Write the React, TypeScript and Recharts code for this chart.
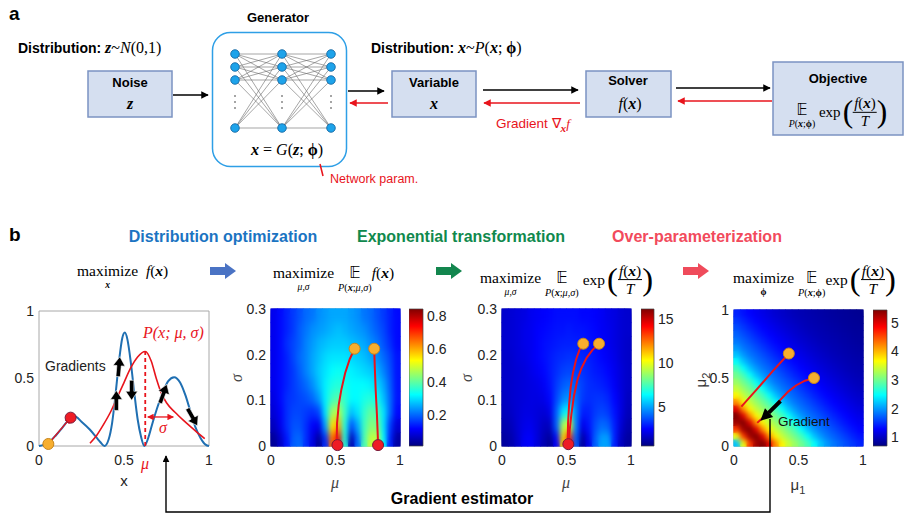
import React from 'react';
import { ComposedChart, Line, Scatter, XAxis, YAxis, ReferenceArea, ReferenceLine } from 'recharts';

const SANS = '"Liberation Sans", Arial, sans-serif';
const SERIF = '"Liberation Serif", "Times New Roman", serif';
const RED = '#e8141c';

// ---- panel b, plot 1: f(x) and P(x; mu, sigma)
const F_CURVE = [
  { x: 0, y: 0 }, { x: 0.03, y: 0.01 }, { x: 0.06, y: 0.03 }, { x: 0.1, y: 0.08 }, { x: 0.14, y: 0.14 },
  { x: 0.18, y: 0.2 }, { x: 0.21, y: 0.22 }, { x: 0.25, y: 0.18 }, { x: 0.3, y: 0.12 }, { x: 0.34, y: 0.06 },
  { x: 0.36, y: 0.03 }, { x: 0.385, y: 0 }, { x: 0.41, y: 0.05 }, { x: 0.43, y: 0.17 }, { x: 0.45, y: 0.38 },
  { x: 0.47, y: 0.62 }, { x: 0.49, y: 0.8 }, { x: 0.505, y: 0.84 }, { x: 0.52, y: 0.79 }, { x: 0.54, y: 0.62 },
  { x: 0.56, y: 0.4 }, { x: 0.58, y: 0.2 }, { x: 0.6, y: 0.07 }, { x: 0.62, y: 0 }, { x: 0.64, y: 0.05 },
  { x: 0.67, y: 0.18 }, { x: 0.7, y: 0.3 }, { x: 0.73, y: 0.4 }, { x: 0.76, y: 0.48 }, { x: 0.795, y: 0.51 },
  { x: 0.83, y: 0.47 }, { x: 0.86, y: 0.38 }, { x: 0.89, y: 0.26 }, { x: 0.92, y: 0.14 }, { x: 0.95, y: 0.06 },
  { x: 0.98, y: 0.01 }, { x: 1, y: 0 },
];
const P_CURVE = [
  { x: 0.3, y: 0.02 }, { x: 0.34, y: 0.08 }, { x: 0.38, y: 0.16 }, { x: 0.42, y: 0.25 }, { x: 0.46, y: 0.36 },
  { x: 0.5, y: 0.47 }, { x: 0.54, y: 0.58 }, { x: 0.58, y: 0.66 }, { x: 0.625, y: 0.7 }, { x: 0.66, y: 0.63 },
  { x: 0.69, y: 0.5 }, { x: 0.72, y: 0.39 }, { x: 0.75, y: 0.32 }, { x: 0.8, y: 0.25 }, { x: 0.85, y: 0.19 },
  { x: 0.9, y: 0.135 }, { x: 0.95, y: 0.08 }, { x: 0.975, y: 0.055 },
];
const START_1D = [{ x: 0.055, y: 0.015 }];
const END_1D = [{ x: 0.186, y: 0.21 }];
const GRAD_ARROWS = [
  { x: 0.455, y: 0.33, angle: 0 }, { x: 0.47, y: 0.58, angle: 5 }, { x: 0.545, y: 0.42, angle: 180 },
  { x: 0.73, y: 0.38, angle: 20 }, { x: 0.9, y: 0.22, angle: 150 },
];
const MU_MARK = [{ x: 0.625, y: 0 }, { x: 0.625, y: 0.7 }];
const SIGMA_MARK = [{ x: 0.64, y: 0.215 }, { x: 0.79, y: 0.215 }];

const TICKS_01 = [0, 0.5, 1];
const SIGMA_TICKS = [0, 0.1, 0.2, 0.3];

// ---- heat maps (cell centres, rows bottom -> top)
const MU_GRID = [0.025, 0.075, 0.125, 0.175, 0.225, 0.275, 0.325, 0.375, 0.425, 0.475,
  0.525, 0.575, 0.625, 0.675, 0.725, 0.775, 0.825, 0.875, 0.925, 0.975];
const SIGMA_GRID = [0.015, 0.045, 0.075, 0.105, 0.135, 0.165, 0.195, 0.225, 0.255, 0.285];

const HEAT_F = [
  [0.03, 0.07, 0.13, 0.19, 0.2, 0.15, 0.09, 0.03, 0.15, 0.65, 0.75, 0.35, 0.05, 0.2, 0.38, 0.48, 0.48, 0.32, 0.14, 0.04],
  [0.06, 0.1, 0.15, 0.18, 0.18, 0.15, 0.11, 0.1, 0.25, 0.55, 0.6, 0.35, 0.18, 0.25, 0.37, 0.43, 0.42, 0.3, 0.16, 0.08],
  [0.08, 0.11, 0.15, 0.17, 0.17, 0.16, 0.15, 0.17, 0.3, 0.45, 0.47, 0.37, 0.27, 0.3, 0.36, 0.4, 0.38, 0.3, 0.2, 0.12],
  [0.09, 0.12, 0.15, 0.16, 0.17, 0.18, 0.2, 0.24, 0.31, 0.37, 0.39, 0.36, 0.32, 0.32, 0.34, 0.35, 0.33, 0.27, 0.2, 0.13],
  [0.1, 0.12, 0.14, 0.16, 0.18, 0.2, 0.23, 0.27, 0.31, 0.34, 0.35, 0.34, 0.32, 0.32, 0.32, 0.31, 0.29, 0.25, 0.19, 0.13],
  [0.1, 0.12, 0.14, 0.16, 0.19, 0.22, 0.25, 0.28, 0.3, 0.32, 0.33, 0.32, 0.31, 0.3, 0.29, 0.28, 0.26, 0.22, 0.18, 0.13],
  [0.1, 0.12, 0.14, 0.17, 0.2, 0.22, 0.25, 0.27, 0.29, 0.3, 0.3, 0.3, 0.29, 0.28, 0.27, 0.25, 0.23, 0.2, 0.17, 0.13],
  [0.1, 0.12, 0.15, 0.17, 0.19, 0.22, 0.24, 0.26, 0.27, 0.28, 0.28, 0.28, 0.27, 0.26, 0.25, 0.23, 0.21, 0.18, 0.15, 0.12],
  [0.1, 0.12, 0.14, 0.16, 0.19, 0.21, 0.23, 0.24, 0.25, 0.26, 0.27, 0.26, 0.25, 0.24, 0.23, 0.21, 0.19, 0.17, 0.14, 0.12],
  [0.1, 0.12, 0.14, 0.16, 0.18, 0.2, 0.21, 0.23, 0.24, 0.25, 0.25, 0.25, 0.24, 0.23, 0.21, 0.2, 0.18, 0.16, 0.14, 0.12],
];
const HEAT_EXP = [
  [1.1, 1.3, 1.8, 2.4, 2.5, 2.0, 1.4, 1.0, 2.5, 11, 14, 4, 1.1, 2.2, 4, 5, 5, 3, 1.6, 1.1],
  [1.3, 1.5, 1.9, 2.2, 2.3, 2.0, 1.6, 1.6, 4, 9, 10, 4.5, 2.2, 2.8, 3.7, 4.2, 4, 3, 1.9, 1.3],
  [1.5, 1.7, 1.9, 2.1, 2.1, 2, 1.9, 2.2, 4, 6, 6.5, 4.5, 3, 3, 3.4, 3.6, 3.4, 2.8, 2.1, 1.5],
  [1.6, 1.8, 1.9, 2.0, 2.1, 2.1, 2.2, 2.6, 3.6, 4.5, 4.8, 4.2, 3.4, 3.2, 3.3, 3.3, 3.1, 2.6, 2.1, 1.6],
  [1.7, 1.8, 1.9, 2.0, 2.1, 2.2, 2.4, 2.8, 3.4, 3.9, 4.1, 3.9, 3.5, 3.2, 3.1, 3.0, 2.8, 2.4, 2.0, 1.7],
  [1.7, 1.8, 1.9, 2.0, 2.2, 2.4, 2.6, 2.9, 3.2, 3.5, 3.6, 3.5, 3.3, 3.1, 2.9, 2.8, 2.6, 2.3, 2.0, 1.7],
  [1.7, 1.8, 2.0, 2.1, 2.3, 2.5, 2.7, 2.9, 3.1, 3.2, 3.3, 3.2, 3.1, 3.0, 2.8, 2.6, 2.4, 2.2, 1.9, 1.7],
  [1.8, 1.9, 2.0, 2.2, 2.3, 2.5, 2.7, 2.8, 2.9, 3.0, 3.0, 3.0, 2.9, 2.8, 2.7, 2.5, 2.3, 2.1, 1.9, 1.7],
  [1.8, 1.9, 2.0, 2.2, 2.3, 2.5, 2.6, 2.7, 2.8, 2.8, 2.9, 2.8, 2.8, 2.7, 2.6, 2.4, 2.3, 2.1, 1.9, 1.8],
  [1.8, 1.9, 2.0, 2.1, 2.3, 2.4, 2.5, 2.6, 2.7, 2.7, 2.7, 2.7, 2.6, 2.6, 2.5, 2.4, 2.2, 2.1, 1.9, 1.8],
];
// mu2 rows (same centres as MU_GRID)
const HEAT_PHI = [
  [2.2, 3.6, 4.6, 5.3, 5.45, 5.0, 4.2, 3.7, 3.4, 3.2, 3.0, 2.8, 2.5, 2.2, 2.0, 1.85, 1.75, 1.65, 1.55, 1.45],
  [3.6, 4.6, 5.3, 5.45, 5.0, 4.2, 3.7, 3.4, 3.2, 3.0, 2.8, 2.5, 2.2, 2.0, 1.85, 1.75, 1.65, 1.55, 1.45, 1.37],
  [4.6, 5.3, 5.45, 5.0, 4.2, 3.7, 3.4, 3.2, 3.0, 2.8, 2.5, 2.2, 2.0, 1.85, 1.75, 1.65, 1.55, 1.45, 1.37, 1.3],
  [5.3, 5.45, 5.0, 4.2, 3.7, 3.4, 3.2, 3.0, 2.8, 2.5, 2.2, 2.0, 1.85, 1.75, 1.65, 1.55, 1.45, 1.37, 1.3, 1.24],
  [5.45, 5.0, 4.2, 3.7, 3.4, 3.2, 3.0, 2.8, 2.5, 2.2, 2.0, 1.85, 1.75, 1.65, 1.55, 1.45, 1.37, 1.3, 1.24, 1.18],
  [5.0, 4.2, 3.7, 3.4, 3.2, 3.0, 2.8, 2.5, 2.2, 2.0, 1.85, 1.75, 1.65, 1.55, 1.45, 1.37, 1.3, 1.24, 1.18, 1.13],
  [4.2, 3.7, 3.4, 3.2, 3.0, 2.8, 2.5, 2.2, 2.0, 1.85, 1.75, 1.65, 1.55, 1.45, 1.37, 1.3, 1.24, 1.18, 1.13, 1.08],
  [3.7, 3.4, 3.2, 3.0, 2.8, 2.5, 2.2, 2.0, 1.85, 1.75, 1.65, 1.55, 1.45, 1.37, 1.3, 1.24, 1.18, 1.13, 1.08, 1.04],
  [3.4, 3.2, 3.0, 2.8, 2.5, 2.2, 2.0, 1.85, 1.75, 1.65, 1.55, 1.45, 1.37, 1.3, 1.24, 1.18, 1.13, 1.08, 1.04, 1.0],
  [3.2, 3.0, 2.8, 2.5, 2.2, 2.0, 1.85, 1.75, 1.65, 1.55, 1.45, 1.37, 1.3, 1.24, 1.18, 1.13, 1.08, 1.04, 1.0, 0.97],
  [3.0, 2.8, 2.5, 2.2, 2.0, 1.85, 1.75, 1.65, 1.55, 1.45, 1.37, 1.3, 1.24, 1.18, 1.13, 1.08, 1.04, 1.0, 0.97, 0.94],
  [2.8, 2.5, 2.2, 2.0, 1.85, 1.75, 1.65, 1.55, 1.45, 1.37, 1.3, 1.24, 1.18, 1.13, 1.08, 1.04, 1.0, 0.97, 0.94, 0.92],
  [2.5, 2.2, 2.0, 1.85, 1.75, 1.65, 1.55, 1.45, 1.37, 1.3, 1.24, 1.18, 1.13, 1.08, 1.04, 1.0, 0.97, 0.94, 0.92, 0.9],
  [2.2, 2.0, 1.85, 1.75, 1.65, 1.55, 1.45, 1.37, 1.3, 1.24, 1.18, 1.13, 1.08, 1.04, 1.0, 0.97, 0.94, 0.92, 0.9, 0.88],
  [2.0, 1.85, 1.75, 1.65, 1.55, 1.45, 1.37, 1.3, 1.24, 1.18, 1.13, 1.08, 1.04, 1.0, 0.97, 0.94, 0.92, 0.9, 0.88, 0.86],
  [1.85, 1.75, 1.65, 1.55, 1.45, 1.37, 1.3, 1.24, 1.18, 1.13, 1.08, 1.04, 1.0, 0.97, 0.94, 0.92, 0.9, 0.88, 0.86, 0.84],
  [1.75, 1.65, 1.55, 1.45, 1.37, 1.3, 1.24, 1.18, 1.13, 1.08, 1.04, 1.0, 0.97, 0.94, 0.92, 0.9, 0.88, 0.86, 0.84, 0.83],
  [1.65, 1.55, 1.45, 1.37, 1.3, 1.24, 1.18, 1.13, 1.08, 1.04, 1.0, 0.97, 0.94, 0.92, 0.9, 0.88, 0.86, 0.84, 0.83, 0.82],
  [1.55, 1.45, 1.37, 1.3, 1.24, 1.18, 1.13, 1.08, 1.04, 1.0, 0.97, 0.94, 0.92, 0.9, 0.88, 0.86, 0.84, 0.83, 0.82, 0.8],
  [1.45, 1.37, 1.3, 1.24, 1.18, 1.13, 1.08, 1.04, 1.0, 0.97, 0.94, 0.92, 0.9, 0.88, 0.86, 0.84, 0.83, 0.82, 0.8, 0.79],
];

// optimisation trajectories
const PATHS_F = [
  [{ x: 0.648, y: 0.213 }, { x: 0.61, y: 0.19 }, { x: 0.575, y: 0.16 }, { x: 0.545, y: 0.123 }, { x: 0.525, y: 0.09 }, { x: 0.512, y: 0.05 }, { x: 0.51, y: 0.02 }, { x: 0.515, y: 0.002 }],
  [{ x: 0.8, y: 0.213 }, { x: 0.805, y: 0.17 }, { x: 0.812, y: 0.12 }, { x: 0.821, y: 0.07 }, { x: 0.828, y: 0.02 }, { x: 0.83, y: 0.002 }],
];
const STARTS_F = [{ x: 0.648, y: 0.213 }, { x: 0.8, y: 0.213 }];
const ENDS_F = [{ x: 0.515, y: 0.002 }, { x: 0.83, y: 0.002 }];

const PATHS_EXP = [
  [{ x: 0.63, y: 0.224 }, { x: 0.6, y: 0.21 }, { x: 0.575, y: 0.19 }, { x: 0.55, y: 0.16 }, { x: 0.533, y: 0.13 }, { x: 0.52, y: 0.09 }, { x: 0.512, y: 0.05 }, { x: 0.51, y: 0.02 }, { x: 0.512, y: 0.006 }],
  [{ x: 0.752, y: 0.224 }, { x: 0.7, y: 0.21 }, { x: 0.656, y: 0.193 }, { x: 0.615, y: 0.17 }, { x: 0.585, y: 0.145 }, { x: 0.558, y: 0.11 }, { x: 0.538, y: 0.07 }, { x: 0.525, y: 0.035 }, { x: 0.518, y: 0.01 }],
];
const STARTS_EXP = [{ x: 0.63, y: 0.224 }, { x: 0.752, y: 0.224 }];
const ENDS_EXP = [{ x: 0.514, y: 0.004 }];

const PATHS_PHI = [
  [{ x: 0.425, y: 0.68 }, { x: 0.3, y: 0.55 }, { x: 0.18, y: 0.42 }, { x: 0.057, y: 0.29 }],
  [{ x: 0.62, y: 0.5 }, { x: 0.55, y: 0.48 }, { x: 0.48, y: 0.445 }, { x: 0.42, y: 0.4 }, { x: 0.35, y: 0.33 }, { x: 0.27, y: 0.25 }, { x: 0.18, y: 0.17 }],
];
const STARTS_PHI = [{ x: 0.425, y: 0.68 }, { x: 0.62, y: 0.5 }];
const GRAD_PHI = [{ x: 0.36, y: 0.33 }, { x: 0.27, y: 0.245 }];
const GRAD_PHI_TIP = [{ x: 0.255, y: 0.23, angle: 227 }];

const CBAR_F = { min: 0.01, max: 0.84, ticks: [0.2, 0.4, 0.6, 0.8] };
const CBAR_EXP = { min: 0.6, max: 16.1, ticks: [5, 10, 15] };
const CBAR_PHI = { min: 0.7, max: 5.45, ticks: [1, 2, 3, 4, 5] };

function jet(t: number) {
  const c = Math.max(0, Math.min(1, t));
  const f = (v: number) => Math.round(255 * Math.max(0, Math.min(1, v)));
  return `rgb(${f(1.5 - Math.abs(4 * c - 3))},${f(1.5 - Math.abs(4 * c - 2))},${f(1.5 - Math.abs(4 * c - 1))})`;
}

const tickStyle = { fontSize: 14, fill: '#222', fontFamily: SANS };

const Txt = ({ x, y, c, s, children }: any) => (
  <div style={{ position: 'absolute', left: x, top: y, transform: c ? 'translate(-50%,-50%)' : 'translateY(-50%)', whiteSpace: 'nowrap', lineHeight: 1.1, ...s }}>
    {children}
  </div>
);
const I = ({ children }: any) => <span style={{ fontStyle: 'italic' }}>{children}</span>;
const BI = ({ children }: any) => <span style={{ fontStyle: 'italic', fontWeight: 700 }}>{children}</span>;
const Under = ({ main, sub, subSize = '0.62em' }: any) => (
  <span style={{ display: 'inline-flex', flexDirection: 'column', alignItems: 'center', lineHeight: 1 }}>
    <span>{main}</span>
    <span style={{ fontSize: subSize, marginTop: 1 }}>{sub}</span>
  </span>
);
const Fx = () => <><I>f</I>(<BI>x</BI>)</>;
const EE = ({ sub }: any) => <Under main={<span style={{ fontFamily: '"DejaVu Sans", sans-serif', fontSize: '1em' }}>𝔼</span>} sub={sub} subSize="0.66em" />;
const ExpFrac = () => (
  <span style={{ display: 'inline-flex', alignItems: 'center', verticalAlign: 'middle' }}>
    <span>exp</span>
    <span style={{ fontSize: '2.1em', lineHeight: 1, fontWeight: 300, marginLeft: 2 }}>(</span>
    <span style={{ display: 'inline-flex', flexDirection: 'column', alignItems: 'center', lineHeight: 1.1 }}>
      <span style={{ borderBottom: '1px solid #000', padding: '0 1px' }}><Fx /></span>
      <I>T</I>
    </span>
    <span style={{ fontSize: '2.1em', lineHeight: 1, fontWeight: 300 }}>)</span>
  </span>
);

const dot = (fill: string, stroke: string) => (p: any) => (
  <circle cx={p.cx} cy={p.cy} r={5.5} fill={fill} stroke={stroke} strokeWidth={1} />
);
const orangeDot = dot('#f7ae2e', '#c7851c');
const redDot = dot('#ee1c25', '#7a1a3a');
const noMark = () => <g />;

const GradArrow = (p: any) => {
  const a = p.payload ? p.payload.angle : p.angle;
  return (
    <g transform={`translate(${p.cx},${p.cy}) rotate(${a})`}>
      <path d="M0,-11 L6,-2 L2.2,-2 L2.2,9 L-2.2,9 L-2.2,-2 L-6,-2 Z" fill="#000" stroke="#fff" strokeWidth={0.6} />
    </g>
  );
};
const ArrowTip = (p: any) => {
  const a = p.payload ? p.payload.angle : p.angle;
  return (
    <g transform={`translate(${p.cx},${p.cy}) rotate(${a})`}>
      <path d="M0,-9 L6,3 L-6,3 Z" fill="#000" />
    </g>
  );
};

function CurvePlot() {
  const L = 39, T = 311, PW = 170, PH = 135;
  return (
    <div style={{ position: 'absolute', left: L - 40, top: T - 10 }}>
      <ComposedChart width={PW + 50} height={PH + 40} margin={{ top: 10, right: 10, bottom: 0, left: 0 }}>
        <XAxis type="number" dataKey="x" domain={[0, 1]} ticks={TICKS_01} height={30} axisLine={false} tickLine={false} tickSize={0} tickMargin={9} tick={tickStyle} />
        <YAxis type="number" dataKey="y" domain={[0, 1]} ticks={TICKS_01} width={40} axisLine={false} tickLine={false} tickSize={0} tickMargin={5} tick={tickStyle} />
        <ReferenceArea x1={0} x2={1} y1={0} y2={1} fill="none" fillOpacity={0} stroke="#a8a8a8" strokeWidth={1} />
        <Line data={F_CURVE} dataKey="y" type="monotone" stroke="#1f6fb2" strokeWidth={2} dot={false} isAnimationActive={false} />
        <Line data={P_CURVE} dataKey="y" type="monotone" stroke={RED} strokeWidth={1.6} dot={false} isAnimationActive={false} />
        <ReferenceLine segment={MU_MARK} stroke={RED} strokeWidth={1.8} strokeDasharray="4 3" />
        <ReferenceLine segment={SIGMA_MARK} stroke={RED} strokeWidth={1.3} markerStart="url(#arRed)" markerEnd="url(#arRed)" />
        <ReferenceLine segment={[START_1D[0], END_1D[0]]} stroke={RED} strokeWidth={1.3} markerEnd="url(#arRed)" />
        <Scatter data={GRAD_ARROWS} shape={GradArrow} isAnimationActive={false} />
        <Scatter data={START_1D} shape={orangeDot} isAnimationActive={false} />
        <Scatter data={END_1D} shape={redDot} isAnimationActive={false} />
      </ComposedChart>
    </div>
  );
}

function HeatPanel({ L, T, PW, PH, grid, ys, yMax, yTicks, vmin, vmax, paths, starts, ends, filter, extra }: any) {
  const cw = PW / MU_GRID.length + 0.8;
  const ch = PH / ys.length + 0.8;
  const cells = grid.flatMap((row: number[], j: number) => row.map((v, i) => ({ x: MU_GRID[i], y: ys[j], v })));
  const Cell = (p: any) => {
    const v = p.payload ? p.payload.v : p.v;
    return <rect x={p.cx - cw / 2} y={p.cy - ch / 2} width={cw} height={ch} fill={jet((v - vmin) / (vmax - vmin))} />;
  };
  return (
    <div style={{ position: 'absolute', left: L - 40, top: T - 10 }}>
      <ComposedChart width={PW + 50} height={PH + 40} margin={{ top: 10, right: 10, bottom: 0, left: 0 }}>
        <XAxis type="number" dataKey="x" domain={[0, 1]} ticks={TICKS_01} height={30} axisLine={false} tickLine={false} tickSize={0} tickMargin={9} tick={tickStyle} />
        <YAxis type="number" dataKey="y" domain={[0, yMax]} ticks={yTicks} width={40} axisLine={false} tickLine={false} tickSize={0} tickMargin={5} tick={tickStyle} />
        <Scatter data={cells} shape={Cell} isAnimationActive={false} />
        <Scatter data={cells} shape={Cell} className={filter} isAnimationActive={false} />
        <ReferenceArea x1={0} x2={1} y1={0} y2={yMax} fill="none" fillOpacity={0} stroke="#555" strokeWidth={0.7} />
        {paths.map((p: any, k: number) => (
          <Scatter key={k} data={p} shape={noMark} line={{ stroke: RED, strokeWidth: 2 }} lineType="joint" isAnimationActive={false} />
        ))}
        {extra}
        <Scatter data={starts} shape={orangeDot} isAnimationActive={false} />
        {ends && <Scatter data={ends} shape={redDot} isAnimationActive={false} />}
      </ComposedChart>
    </div>
  );
}

function ColorBar({ L, T, W, H, cb }: any) {
  return (
    <div style={{ position: 'absolute', left: L, top: T - 10 }}>
      <ComposedChart width={W + 32} height={H + 20} margin={{ top: 10, right: 0, bottom: 10, left: 0 }} data={[{ x: 0, y: cb.min }, { x: 1, y: cb.max }]}>
        <XAxis type="number" dataKey="x" domain={[0, 1]} hide />
        <YAxis type="number" dataKey="y" orientation="right" domain={[cb.min, cb.max]} ticks={cb.ticks} width={32} axisLine={false} tickLine={false} tickSize={0} tickMargin={4} tick={tickStyle} />
        <ReferenceArea x1={0} x2={1} y1={cb.min} y2={cb.max} fill="url(#jetV)" fillOpacity={1} stroke="#444" strokeWidth={0.7} />
      </ComposedChart>
    </div>
  );
}

const box = { fill: '#d5dff0', stroke: '#7b93c2', strokeWidth: 1.5 };
const NN_X = [235, 282, 331];
const NN_Y = [54, 67, 80, 128];

function Diagram() {
  const links: any[] = [];
  for (let l = 0; l < 2; l++)
    NN_Y.forEach((a) => NN_Y.forEach((b) => links.push(<line key={`${l}-${a}-${b}`} x1={NN_X[l]} y1={a} x2={NN_X[l + 1]} y2={b} stroke="#6a6a6a" strokeWidth={0.6} />)));
  const block = (x0: number, y: number, color: string) => (
    <polygon points={`${x0},${y - 4} ${x0 + 15},${y - 4} ${x0 + 15},${y - 8} ${x0 + 26},${y} ${x0 + 15},${y + 8} ${x0 + 15},${y + 4} ${x0},${y + 4}`} fill={color} />
  );
  return (
    <svg width={906} height={515} style={{ position: 'absolute', left: 0, top: 0 }}>
      <rect x={88} y={71} width={84} height={46} {...box} />
      <rect x={212.5} y={32.5} width={134} height={134} rx={18} fill="#fff" stroke="#2e9fe6" strokeWidth={1.5} />
      <rect x={392} y={71} width={84} height={46} {...box} />
      <rect x={586} y={71} width={85} height={46} {...box} />
      <rect x={773} y={62} width={130} height={73} {...box} />
      {links}
      {NN_X.map((x) => NN_Y.map((y) => <circle key={`${x}-${y}`} cx={x} cy={y} r={4.3} fill="#1ea3ea" stroke="#0d5f9c" strokeWidth={0.8} />))}
      {NN_X.map((x) => [96, 102, 108].map((y) => <circle key={`d${x}-${y}`} cx={x} cy={y} r={0.8} fill="#333" />))}
      <line x1={173} y1={95} x2={208} y2={95} stroke="#000" strokeWidth={1.5} markerEnd="url(#arBlk)" />
      <line x1={348} y1={91} x2={384} y2={91} stroke="#000" strokeWidth={1.5} markerEnd="url(#arBlk)" />
      <line x1={388} y1={103} x2={350} y2={103} stroke={RED} strokeWidth={1.5} markerEnd="url(#arRed)" />
      <line x1={483} y1={90} x2={578} y2={90} stroke="#000" strokeWidth={1.5} markerEnd="url(#arBlk)" />
      <line x1={580} y1={103} x2={484} y2={103} stroke={RED} strokeWidth={1.5} markerEnd="url(#arRed)" />
      <line x1={676} y1={88} x2={770} y2={88} stroke="#000" strokeWidth={1.5} markerEnd="url(#arBlk)" />
      <line x1={772} y1={101} x2={678} y2={101} stroke={RED} strokeWidth={1.5} markerEnd="url(#arRed)" />
      <line x1={323} y1={176} x2={320} y2={164} stroke={RED} strokeWidth={1.5} />
      {block(210, 271, '#4a73c4')}
      {block(436, 271, '#13864e')}
      {block(683, 271, '#ef4b5b')}
    </svg>
  );
}

function Connector() {
  return (
    <svg width={906} height={515} style={{ position: 'absolute', left: 0, top: 0, pointerEvents: 'none' }}>
      <polyline points="770,419 770,512 166,512 166,456" fill="none" stroke="#000" strokeWidth={1.4} markerEnd="url(#arBlk)" />
    </svg>
  );
}

export default function App() {
  const serif = { fontFamily: SERIF, fontSize: 16 };
  const formula = { fontFamily: SERIF, fontSize: 15.5 };
  const bold = { fontFamily: SANS, fontWeight: 700, fontSize: 13 };
  const dist = { fontFamily: SANS, fontWeight: 700, fontSize: 14 };
  return (
    <div style={{ position: 'absolute', left: 0, top: 0, width: 906, height: 515, background: '#fff', overflow: 'hidden', fontFamily: SANS, color: '#000' }}>
      <style>{`.smoothA{filter:url(#smoothA)} .smoothB{filter:url(#smoothB)}`}</style>
      <svg width={0} height={0} style={{ position: 'absolute' }}>
        <defs>
          <linearGradient id="jetV" x1="0" y1="1" x2="0" y2="0">
            <stop offset="0" stopColor="#000080" />
            <stop offset="0.125" stopColor="#0000ff" />
            <stop offset="0.375" stopColor="#00ffff" />
            <stop offset="0.625" stopColor="#ffff00" />
            <stop offset="0.875" stopColor="#ff0000" />
            <stop offset="1" stopColor="#800000" />
          </linearGradient>
          <filter id="smoothA" x="0" y="0" width="1" height="1" colorInterpolationFilters="sRGB">
            <feGaussianBlur stdDeviation="2.5 5" edgeMode="duplicate" />
          </filter>
          <filter id="smoothB" x="0" y="0" width="1" height="1" colorInterpolationFilters="sRGB">
            <feGaussianBlur stdDeviation="2.7" edgeMode="duplicate" />
          </filter>
          <marker id="arRed" viewBox="0 0 10 10" refX="9" refY="5" markerWidth="5" markerHeight="5" orient="auto-start-reverse">
            <path d="M0,0 L10,5 L0,10 z" fill={RED} />
          </marker>
          <marker id="arBlk" viewBox="0 0 10 10" refX="9" refY="5" markerWidth="5" markerHeight="5" orient="auto">
            <path d="M0,0 L10,5 L0,10 z" fill="#000" />
          </marker>
        </defs>
      </svg>

      <Diagram />

      {/* panel a text */}
      <Txt x={9} y={14} s={{ fontWeight: 700, fontSize: 19 }}>a</Txt>
      <Txt x={278} y={18} c s={bold}>Generator</Txt>
      <Txt x={18} y={48} s={dist}>Distribution: <span style={{ ...serif, fontWeight: 400 }}><BI>z</BI>~<I>N</I>(0,1)</span></Txt>
      <Txt x={371} y={48} s={dist}>Distribution: <span style={{ ...serif, fontWeight: 400 }}><BI>x</BI>~<I>P</I>(<BI>x</BI>; <b>ϕ</b>)</span></Txt>
      <Txt x={130} y={83} c s={bold}>Noise</Txt>
      <Txt x={130} y={104} c s={serif}><BI>z</BI></Txt>
      <Txt x={434} y={83} c s={bold}>Variable</Txt>
      <Txt x={434} y={104} c s={serif}><BI>x</BI></Txt>
      <Txt x={628} y={81} c s={bold}>Solver</Txt>
      <Txt x={630} y={104} c s={serif}><Fx /></Txt>
      <Txt x={838} y={79} c s={bold}>Objective</Txt>
      <Txt x={838} y={112} c s={{ ...serif, fontSize: 15 }}>
        <EE sub={<><I>P</I>(<BI>x</BI>;<b>ϕ</b>)</>} /> <ExpFrac />
      </Txt>
      <Txt x={287} y={150} c s={serif}><BI>x</BI> = <I>G</I>(<BI>z</BI>; <b>ϕ</b>)</Txt>
      <Txt x={330} y={180} s={{ color: RED, fontSize: 12.5 }}>Network param.</Txt>
      <Txt x={496} y={126} s={{ color: RED, fontSize: 13.5 }}>Gradient ∇<sub style={{ fontFamily: SERIF, fontStyle: 'italic', fontWeight: 700 }}>x</sub><span style={{ fontFamily: SERIF, fontStyle: 'italic' }}>f</span></Txt>

      {/* panel b headings and formulas */}
      <Txt x={9} y={235} s={{ fontWeight: 700, fontSize: 19 }}>b</Txt>
      <Txt x={223} y={237} c s={{ fontWeight: 700, fontSize: 16, color: '#1b74c2' }}>Distribution optimization</Txt>
      <Txt x={461} y={237} c s={{ fontWeight: 700, fontSize: 16, color: '#10894d' }}>Exponential transformation</Txt>
      <Txt x={697} y={237} c s={{ fontWeight: 700, fontSize: 16, color: '#f24a5c' }}>Over-parameterization</Txt>
      <Txt x={77} y={276} s={formula}><Under main="maximize" sub={<BI>x</BI>} />&nbsp;&nbsp;<Fx /></Txt>
      <Txt x={273} y={278} s={formula}><Under main="maximize" sub={<I>μ,σ</I>} /> <EE sub={<><I>P</I>(<BI>x</BI>;<I>μ</I>,<I>σ</I>)</>} /><Fx /></Txt>
      <Txt x={480} y={280} s={formula}><Under main="maximize" sub={<I>μ,σ</I>} /> <EE sub={<><I>P</I>(<BI>x</BI>;<I>μ</I>,<I>σ</I>)</>} />&nbsp;<ExpFrac /></Txt>
      <Txt x={733} y={280} s={formula}><Under main="maximize" sub={<b>ϕ</b>} /> <EE sub={<><I>P</I>(<BI>x</BI>;<b>ϕ</b>)</>} /><ExpFrac /></Txt>

      {/* panel b plots */}
      <CurvePlot />
      <HeatPanel L={271} T={309} PW={129} PH={137} grid={HEAT_F} ys={SIGMA_GRID} yMax={0.3} yTicks={SIGMA_TICKS}
        vmin={CBAR_F.min} vmax={CBAR_F.max} paths={PATHS_F} starts={STARTS_F} ends={ENDS_F} filter="smoothA" />
      <ColorBar L={409} T={309} W={14} H={137} cb={CBAR_F} />
      <HeatPanel L={502} T={309} PW={129} PH={137} grid={HEAT_EXP} ys={SIGMA_GRID} yMax={0.3} yTicks={SIGMA_TICKS}
        vmin={CBAR_EXP.min} vmax={CBAR_EXP.max} paths={PATHS_EXP} starts={STARTS_EXP} ends={ENDS_EXP} filter="smoothA" />
      <ColorBar L={641} T={309} W={13} H={137} cb={CBAR_EXP} />
      <HeatPanel L={734} T={310} PW={129} PH={136} grid={HEAT_PHI} ys={MU_GRID} yMax={1} yTicks={TICKS_01}
        vmin={CBAR_PHI.min} vmax={CBAR_PHI.max} paths={PATHS_PHI} starts={STARTS_PHI} filter="smoothB"
        extra={[
          <Scatter key="g" data={GRAD_PHI} shape={noMark} line={{ stroke: '#000', strokeWidth: 4 }} lineType="joint" isAnimationActive={false} />,
          <Scatter key="t" data={GRAD_PHI_TIP} shape={ArrowTip} isAnimationActive={false} />,
        ]} />
      <ColorBar L={873} T={310} W={14} H={136} cb={CBAR_PHI} />

      {/* plot annotations */}
      <Txt x={45} y={367} s={{ fontSize: 14, color: '#222' }}>Gradients</Txt>
      <Txt x={143} y={333} s={{ ...serif, color: RED, fontStyle: 'italic' }}>P(x; μ, σ)</Txt>
      <Txt x={163} y={428} c s={{ ...serif, color: RED, fontStyle: 'italic' }}>σ</Txt>
      <Txt x={145} y={464} c s={{ ...serif, color: RED, fontStyle: 'italic' }}>μ</Txt>
      <Txt x={124} y={481} c s={{ fontSize: 15, color: '#222' }}>x</Txt>
      <Txt x={237} y={378} c s={{ ...serif, fontStyle: 'italic', color: '#444', transform: 'translate(-50%,-50%) rotate(-90deg)' }}>σ</Txt>
      <Txt x={335} y={483} c s={{ ...serif, fontStyle: 'italic', color: '#444' }}>μ</Txt>
      <Txt x={467} y={378} c s={{ ...serif, fontStyle: 'italic', color: '#444', transform: 'translate(-50%,-50%) rotate(-90deg)' }}>σ</Txt>
      <Txt x={566} y={483} c s={{ ...serif, fontStyle: 'italic', color: '#444' }}>μ</Txt>
      <Txt x={703} y={380} c s={{ fontSize: 15, color: '#333', transform: 'translate(-50%,-50%) rotate(-90deg)' }}>μ<sub style={{ fontSize: 11 }}>2</sub></Txt>
      <Txt x={798} y={487} c s={{ fontSize: 15, color: '#333' }}>μ<sub style={{ fontSize: 11 }}>1</sub></Txt>
      <Txt x={778} y={422} s={{ fontSize: 13.5, color: '#111' }}>Gradient</Txt>
      <Txt x={462} y={499} c s={{ fontWeight: 700, fontSize: 16 }}>Gradient estimator</Txt>

      <Connector />
    </div>
  );
}
